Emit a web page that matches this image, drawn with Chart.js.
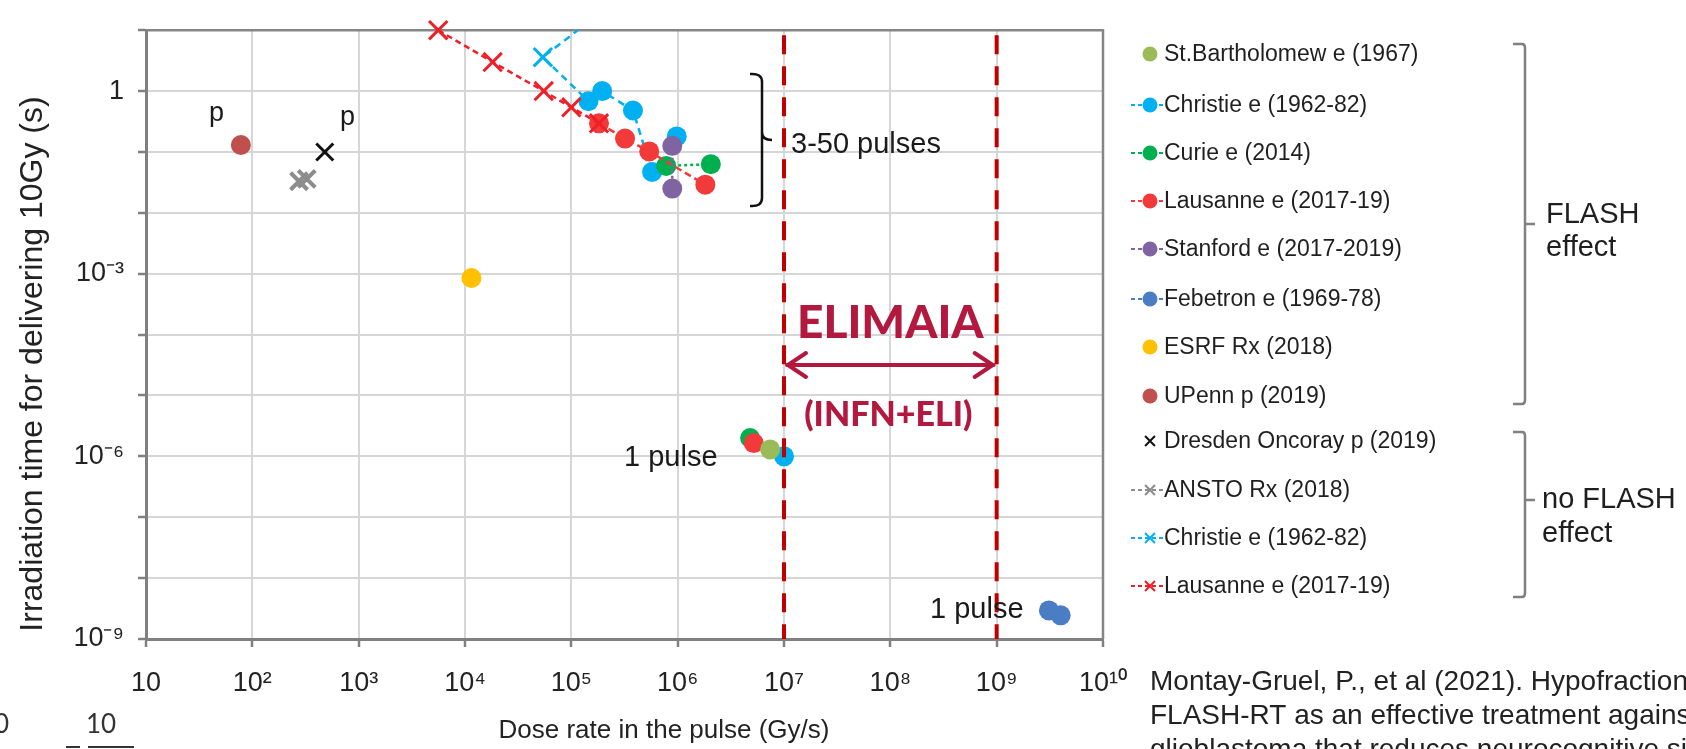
<!DOCTYPE html>
<html><head><meta charset="utf-8">
<script src="https://cdn.jsdelivr.net/npm/chart.js@4.4.1/dist/chart.umd.min.js"></script>
<style>html,body{margin:0;padding:0;background:#fff;overflow:hidden}#wrap{position:relative;width:1686px;height:749px}</style>
</head><body><div id="wrap"><canvas id="c" width="1686" height="749"></canvas></div>
<script>
// ---- tick values / labels ----
const xTickValues = [1e1,1e2,1e3,1e4,1e5,1e6,1e7,1e8,1e9,1e10];
const xTickLabels = ['10','10²','10³','10⁴','10⁵','10⁶','10⁷','10⁸','10⁹','10¹⁰'];
const yTickValues = [1e-9,1e-8,1e-7,1e-6,1e-5,1e-4,1e-3,1e-2,1e-1,1,1e1];
const yTickLabels = ['10⁻⁹','','','10⁻⁶','','','10⁻³','','','1',''];
const xTitle = 'Dose rate in the pulse (Gy/s)';
const yTitle = 'Irradiation time for delivering 10Gy (s)';

// ---- series (dose rate Gy/s, irradiation time s) ----
const stBartholomewX = [7.4e6];               const stBartholomewY = [1.3e-6];
const christieX = [1.45e5,1.95e5,3.8e5,5.75e5,null,9.8e5,null,1.0e7];
const christieY = [0.68,1.0,0.48,0.047,null,0.18,null,1.0e-6];
const curieX = [7.8e5,2.05e6,null,4.8e6];     const curieY = [0.059,0.063,null,2.0e-6];
const lausanneX = [1.82e5,3.2e5,5.4e5,1.82e6,null,5.2e6];
const lausanneY = [0.295,0.166,0.102,0.029,null,1.65e-6];
const stanfordX = [8.9e5,8.9e5];              const stanfordY = [0.126,0.025];
const febetronX = [3.1e9,4.0e9];              const febetronY = [2.95e-9,2.45e-9];
const esrfX = [1.15e4];                       const esrfY = [8.5e-4];
const upennX = [78];                          const upennY = [0.13];
const dresdenX = [480];                       const dresdenY = [0.10];
const anstoX = [275,325];                     const anstoY = [0.033,0.036];
const christieNoFlashX = [2.2e5,5.4e4,1.45e5]; const christieNoFlashY = [24,3.6,0.68];
const lausanneNoFlashX = [5.6e3,1.82e4,5.5e4,1.0e5,1.82e5];
const lausanneNoFlashY = [10,3.0,1.0,0.54,0.295];
const elimaiaRange = [1e7, 1e9];

const pts = (xs, ys) => xs.map((x,i) => ({x: x, y: ys[i]}));
const FONT = '"Liberation Sans", Arial, sans-serif';
Chart.defaults.font.family = FONT;
Chart.defaults.color = '#222';

function ds(label, xs, ys, color, o) {
  return Object.assign({
    label, data: pts(xs, ys), borderColor: color, backgroundColor: color,
    pointBackgroundColor: color, pointBorderColor: color,
    pointStyle: 'circle', pointRadius: 10, pointBorderWidth: 0,
    showLine: false, borderWidth: 2.5, spanGaps: false
  }, o || {});
}

const datasets = [
  ds('St.Bartholomew e (1967)', stBartholomewX, stBartholomewY, '#9bbb59', {order: 5}),
  ds('Christie e (1962-82)', christieX, christieY, '#00b0f0', {showLine: true, borderDash: [7,5], order: 10}),
  ds('Curie e (2014)', curieX, curieY, '#00b050', {showLine: true, borderDash: [3,3], order: 8}),
  ds('Lausanne e (2017-19)', lausanneX, lausanneY, '#f23a3a', {showLine: true, borderDash: [7,4], order: 7}),
  ds('Stanford e (2017-2019)', stanfordX, stanfordY, '#8064a2', {showLine: true, borderDash: [3,3], order: 6}),
  ds('Febetron e (1969-78)', febetronX, febetronY, '#4a7dc4', {showLine: true, borderDash: [3,3], order: 5}),
  ds('ESRF Rx (2018)', esrfX, esrfY, '#ffc000', {order: 5}),
  ds('UPenn p (2019)', upennX, upennY, '#c0504d', {order: 5}),
  ds('Dresden Oncoray p (2019)', dresdenX, dresdenY, '#111111', {pointStyle: 'crossRot', pointRadius: 12, pointBorderWidth: 3, order: 4}),
  ds('ANSTO Rx (2018)', anstoX, anstoY, '#8c8c8c', {showLine: true, borderDash: [3,3], pointStyle: 'crossRot', pointRadius: 12, pointBorderWidth: 4, order: 4}),
  ds('Christie e (1962-82)', christieNoFlashX, christieNoFlashY, '#00b0f0', {showLine: true, borderDash: [7,5], pointStyle: 'crossRot', pointRadius: [0,13,0], pointBorderWidth: 3, order: 9}),
  ds('Lausanne e (2017-19)', lausanneNoFlashX, lausanneNoFlashY, '#f01e28', {showLine: true, borderDash: [6,4], pointStyle: 'crossRot', pointRadius: 13, pointBorderWidth: 3, order: 3, clip: false})
];

const legendYs = [54,105,153,201,249,299,347,396,441,490,538,586];

const framePlugin = {
  id: 'frame',
  beforeDatasetsDraw(chart) {
    const {ctx, chartArea: a} = chart;
    ctx.save();
    ctx.strokeStyle = '#868686'; ctx.lineWidth = 2.5;
    ctx.beginPath(); ctx.moveTo(a.left, a.top); ctx.lineTo(a.right, a.top); ctx.lineTo(a.right, a.bottom); ctx.stroke();
    ctx.restore();
  }
};

const annotPlugin = {
  id: 'annot',
  afterDatasetsDraw(chart) {
    const {ctx, chartArea: a, scales: {x, y}} = chart;
    ctx.save();
    // dashed ELIMAIA bounds
    ctx.strokeStyle = '#c00000'; ctx.lineWidth = 4; ctx.setLineDash([19, 12]);
    const xs = elimaiaRange.map(v => x.getPixelForValue(v));
    xs.forEach(px => { ctx.beginPath(); ctx.moveTo(px, a.top + 5); ctx.lineTo(px, a.bottom); ctx.stroke(); });
    ctx.setLineDash([]);
    // arrow
    const ay = 365, crim = '#b3183f';
    ctx.strokeStyle = crim; ctx.lineWidth = 4; ctx.lineCap = 'round'; ctx.lineJoin = 'round';
    ctx.beginPath(); ctx.moveTo(xs[0] + 3, ay); ctx.lineTo(xs[1] - 3, ay); ctx.stroke();
    ctx.beginPath(); ctx.moveTo(xs[0] + 22, ay - 12); ctx.lineTo(xs[0] + 4, ay); ctx.lineTo(xs[0] + 22, ay + 12); ctx.stroke();
    ctx.beginPath(); ctx.moveTo(xs[1] - 22, ay - 12); ctx.lineTo(xs[1] - 4, ay); ctx.lineTo(xs[1] - 22, ay + 12); ctx.stroke();
    const cx = (xs[0] + xs[1]) / 2;
    ctx.fillStyle = crim; ctx.textAlign = 'center'; ctx.textBaseline = 'middle';
    ctx.font = '900 46px Lato, "Open Sans", sans-serif';
    ctx.fillText('ELIMAIA', cx, 323);
    ctx.font = '900 34px Lato, "Open Sans", sans-serif';
    ctx.fillText('(INFN+ELI)', cx - 2, 415);
    // brace 3-50 pulses
    ctx.strokeStyle = '#111'; ctx.lineWidth = 2.5; ctx.lineCap = 'butt';
    ctx.beginPath();
    ctx.moveTo(750, 74); ctx.quadraticCurveTo(762, 73, 762, 82);
    ctx.lineTo(762, 132); ctx.quadraticCurveTo(762, 140, 772, 140);
    ctx.moveTo(762, 132); ctx.quadraticCurveTo(762, 140, 762, 148);
    ctx.lineTo(762, 198); ctx.quadraticCurveTo(762, 207, 750, 206);
    ctx.stroke();
    // text annotations
    ctx.fillStyle = '#1a1a1a'; ctx.textAlign = 'left'; ctx.textBaseline = 'middle';
    ctx.font = '29px ' + FONT;
    ctx.fillText('3-50 pulses', 791, 145);
    ctx.fillText('1 pulse', 624, 458);
    ctx.fillText('1 pulse', 930, 610);
    ctx.font = '27px ' + FONT;
    ctx.fillText('p', 209, 114);
    ctx.fillText('p', 340, 118);
    ctx.restore();
  },
  afterDraw(chart) {
    const {ctx} = chart;
    const H = Chart.helpers;
    ctx.save();
    // axis titles
    ctx.fillStyle = '#222'; ctx.textAlign = 'center'; ctx.textBaseline = 'middle';
    ctx.font = '26px ' + FONT;
    ctx.fillText(xTitle, 664, 731);
    ctx.save();
    ctx.translate(33, 364); ctx.rotate(-Math.PI / 2);
    ctx.font = '32px ' + FONT;
    ctx.fillText(yTitle, 0, 0);
    ctx.restore();
    // legend
    ctx.font = '23px ' + FONT; ctx.textBaseline = 'middle'; ctx.textAlign = 'left';
    chart.data.datasets.forEach((d, i) => {
      const ly = legendYs[i];
      if (d.showLine) {
        ctx.strokeStyle = d.borderColor; ctx.lineWidth = 2; ctx.setLineDash([4, 3]);
        ctx.beginPath(); ctx.moveTo(1131, ly); ctx.lineTo(1164, ly); ctx.stroke();
        ctx.setLineDash([]);
      }
      ctx.fillStyle = d.pointBackgroundColor; ctx.strokeStyle = d.pointBorderColor;
      const isX = d.pointStyle === 'crossRot';
      H.drawPoint(ctx, {pointStyle: d.pointStyle, radius: isX ? 7 : 7.5, borderWidth: isX ? 3 : 0, rotation: 0}, 1150, ly);
      ctx.fillStyle = '#1f1f1f';
      ctx.fillText(d.label, 1164, ly + 1);
    });
    // brackets
    ctx.strokeStyle = '#808080'; ctx.lineWidth = 2.5;
    const bracket = (x, y0, y1, ym) => {
      ctx.beginPath();
      ctx.moveTo(x - 12, y0); ctx.lineTo(x - 3, y0); ctx.quadraticCurveTo(x, y0, x, y0 + 4);
      ctx.lineTo(x, y1 - 4); ctx.quadraticCurveTo(x, y1, x - 3, y1); ctx.lineTo(x - 12, y1);
      ctx.moveTo(x, ym); ctx.lineTo(x + 10, ym);
      ctx.stroke();
    };
    bracket(1525, 44, 404, 224);
    bracket(1525, 432, 597, 500);
    ctx.fillStyle = '#1f1f1f'; ctx.font = '29px ' + FONT;
    ctx.fillText('FLASH', 1546, 215);
    ctx.fillText('effect', 1546, 248);
    ctx.fillText('no FLASH', 1542, 500);
    ctx.fillText('effect', 1542, 534);
    // citation
    ctx.font = '28px ' + FONT; ctx.fillStyle = '#222';
    ctx.fillText('Montay-Gruel, P., et al (2021). Hypofractionated', 1150, 682);
    ctx.fillText('FLASH-RT as an effective treatment against', 1150, 716);
    ctx.fillText('glioblastoma that reduces neurocognitive side effects', 1150, 750);
    // fragment bottom-left
    ctx.font = '26px Lato, ' + FONT; ctx.fillStyle = '#333';
    ctx.fillText('0', -6, 725);
    ctx.fillText('10', 86, 725);
    ctx.strokeStyle = '#333'; ctx.lineWidth = 2;
    ctx.beginPath(); ctx.moveTo(66, 747); ctx.lineTo(80, 747); ctx.moveTo(88, 747); ctx.lineTo(134, 747); ctx.stroke();
    ctx.restore();
  }
};

new Chart(document.getElementById('c'), {
  type: 'scatter',
  data: { datasets },
  plugins: [framePlugin, annotPlugin],
  options: {
    responsive: false, animation: false, events: [],
    layout: { padding: { left: 0, top: 25, right: 583, bottom: 0 } },
    plugins: { legend: { display: false }, tooltip: { enabled: false } },
    scales: {
      x: {
        type: 'logarithmic', min: 10, max: 1e10,
        afterBuildTicks: s => { s.ticks = xTickValues.map(v => ({ value: v })); },
        afterFit: s => { s.height = 110; },
        ticks: { callback: (v, i) => xTickLabels[i], autoSkip: false, maxRotation: 0, padding: 20, color: '#222', font: { size: 27 } },
        grid: { color: '#d6d6d6', lineWidth: 2, tickLength: 8, tickColor: '#808080', tickWidth: 2.5 },
        border: { color: '#808080', width: 3 },
        title: { display: false, text: xTitle }
      },
      y: {
        type: 'logarithmic', min: 1e-9, max: 1e1,
        afterBuildTicks: s => { s.ticks = yTickValues.map(v => ({ value: v })); },
        afterFit: s => { s.width = 146; },
        ticks: { callback: (v, i) => yTickLabels[i], autoSkip: false, padding: 14, color: '#222', font: { size: 27 } },
        grid: { color: '#d6d6d6', lineWidth: 2, tickLength: 8, tickColor: '#808080', tickWidth: 2.5 },
        border: { color: '#808080', width: 3 },
        title: { display: false, text: yTitle }
      }
    }
  }
});
</script></body></html>
